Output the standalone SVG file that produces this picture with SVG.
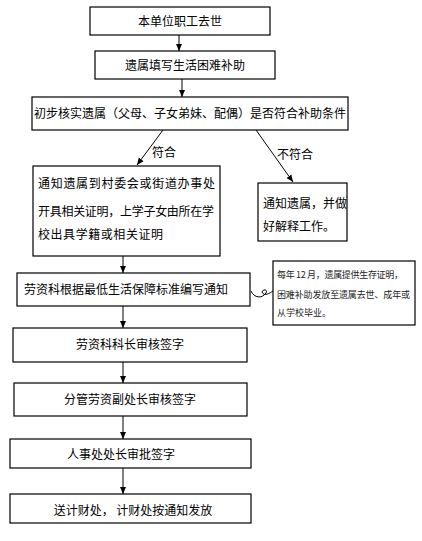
<svg xmlns="http://www.w3.org/2000/svg" width="422" height="541" viewBox="0 0 422 541">
<style>
.b{fill:#fff;stroke:#000;stroke-width:1.2}
.t{font-family:"Noto Sans CJK SC","Liberation Sans",sans-serif;font-size:12px;fill:#000}
.s{font-family:"Noto Sans CJK SC","Liberation Sans",sans-serif;font-size:9px;fill:#222}
.c{stroke:#000;stroke-width:1;fill:none}
</style>
<defs>
<marker id="a" markerWidth="8" markerHeight="8" refX="7" refY="4" orient="auto" markerUnits="userSpaceOnUse">
<path d="M0,1 L7,4 L0,7 Z" fill="#000"/>
</marker>
</defs>
<rect width="422" height="541" fill="#fff"/>
<g id="connectors">
<line class="c" x1="179" y1="35" x2="179" y2="51" marker-end="url(#a)"/>
<line class="c" x1="182" y1="79" x2="182" y2="97" marker-end="url(#a)"/>
<line class="c" x1="163" y1="130" x2="137" y2="165" marker-end="url(#a)"/>
<line class="c" x1="256" y1="130" x2="293" y2="182" marker-end="url(#a)"/>
<line class="c" x1="123" y1="256" x2="123" y2="273" marker-end="url(#a)"/>
<line class="c" x1="123" y1="306" x2="123" y2="328" marker-end="url(#a)"/>
<line class="c" x1="123" y1="362" x2="123" y2="383" marker-end="url(#a)"/>
<line class="c" x1="123" y1="416" x2="123" y2="439" marker-end="url(#a)"/>
<line class="c" x1="123" y1="468" x2="123" y2="494" marker-end="url(#a)"/>
<path class="c" d="M251,291 C254,298 262,299 266,293 C268,289 263,289 262,292 C264,297 270,293 273,291" stroke-width="1.4"/>
<text class="t" x="152" y="157">符合</text>
<text class="t" x="277" y="159">不符合</text>
</g>
<g id="n1"><rect class="b" x="90" y="7" width="180" height="28"/><text class="t" x="180" y="26" text-anchor="middle">本单位职工去世</text></g>
<g id="n2"><rect class="b" x="95" y="51" width="180" height="28"/><text class="t" x="185" y="70" text-anchor="middle">遗属填写生活困难补助</text></g>
<g id="n3"><rect class="b" x="32" y="97" width="316" height="33"/><text class="t" x="190" y="118" text-anchor="middle">初步核实遗属（父母、子女弟妹、配偶）是否符合补助条件</text></g>
<g id="n4"><rect class="b" x="33" y="166" width="187" height="90"/>
<text class="t" x="38" y="188" textLength="177">通知遗属到村委会或街道办事处</text>
<text class="t" x="38" y="216" textLength="176">开具相关证明，上学子女由所在学</text>
<text class="t" x="38" y="239" textLength="125">校出具学籍或相关证明</text></g>
<g id="n5"><rect class="b" x="258" y="183" width="89" height="58"/>
<text class="t" x="263" y="208">通知遗属，并做</text>
<text class="t" x="263" y="231">好解释工作。</text></g>
<g id="n6"><rect class="b" x="17" y="273" width="233" height="33"/><text class="t" x="126" y="294" text-anchor="middle">劳资科根据最低生活保障标准编写通知</text></g>
<g id="note"><rect class="b" x="273" y="261" width="142" height="64"/>
<text class="s" x="277" y="278" textLength="126">每年 12 月，遗属提供生存证明，</text>
<text class="s" x="277" y="298" textLength="133">困难补助发放至遗属去世、成年或</text>
<text class="s" x="277" y="316">从学校毕业。</text></g>
<g id="n7"><rect class="b" x="13" y="328" width="234" height="34"/><text class="t" x="130" y="349" text-anchor="middle">劳资科科长审核签字</text></g>
<g id="n8"><rect class="b" x="14" y="383" width="233" height="33"/><text class="t" x="130" y="404" text-anchor="middle">分管劳资副处长审核签字</text></g>
<g id="n9"><rect class="b" x="10" y="439" width="241" height="29"/><text class="t" x="121" y="459" text-anchor="middle">人事处处长审批签字</text></g>
<g id="n10"><rect class="b" x="10" y="494" width="241" height="29"/><text class="t" x="133" y="515" text-anchor="middle">送计财处， 计财处按通知发放</text></g>
</svg>
